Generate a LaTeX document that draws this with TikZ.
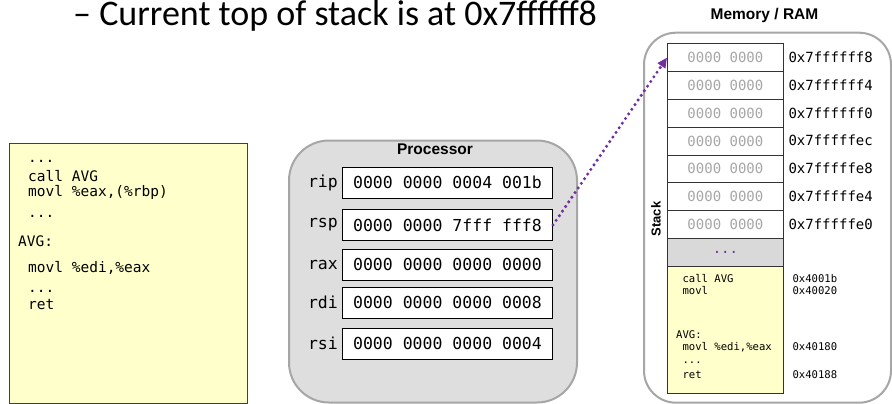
\documentclass[tikz,border=0pt]{standalone}
\usepackage{fontspec}
\setmainfont{Liberation Sans}
\setmonofont{DejaVu Sans Mono}
\newfontfamily\titlefont{Carlito}
\usetikzlibrary{arrows.meta}

\definecolor{codeyellow}{HTML}{FFFFCC}
\definecolor{procgray}{HTML}{DEDEDE}
\definecolor{framegray}{HTML}{A6A6A6}
\definecolor{cellgray}{HTML}{D9D9D9}
\definecolor{zerogray}{HTML}{A6A6A6}
\definecolor{ptrpurple}{HTML}{7030A0}

\tikzset{
  codeline/.style={anchor=base west, inner sep=0pt, font=\ttfamily\fontsize{14.5}{16}\selectfont},
  smallcode/.style={anchor=base west, inner sep=0pt, font=\ttfamily\fontsize{10.6}{12}\selectfont},
  regbox/.style={draw=black, line width=1pt, fill=white, minimum width=210pt, minimum height=31pt,
                 inner sep=0pt, font=\ttfamily\fontsize{16.5}{18}\selectfont},
  reglabel/.style={anchor=east, inner sep=0pt, font=\ttfamily\fontsize{16.5}{18}\selectfont},
  memcell/.style={draw=black!80, line width=0.8pt, fill=white, minimum width=116pt, minimum height=27.8pt,
                  inner sep=0pt, anchor=north west, text=zerogray, font=\ttfamily\fontsize{14}{16}\selectfont},
  addr/.style={anchor=west, inner sep=0pt, font=\ttfamily\fontsize{14}{16}\selectfont},
  heading/.style={inner sep=0pt, font=\bfseries\fontsize{15.5}{17}\selectfont},
  roundframe/.style={draw=framegray, line width=2pt, inner sep=0pt, anchor=north west},
}

\begin{document}
\begin{tikzpicture}[x=1pt, y=-1pt]
\useasboundingbox (0,0) rectangle (892,404);

% slide bullet
\node[anchor=base west, inner sep=0pt, font=\titlefont\fontsize{36}{40}\selectfont]
  (title) at (73,26) {– Current top of stack is at 0x7ffffff8};

% program listing
\node[draw=black!75, line width=1pt, fill=codeyellow, anchor=north west,
      minimum width=238pt, minimum height=260pt, inner sep=0pt] (code) at (9,143) {};
\node[codeline] (c1) at (28,162.7) {...};
\node[codeline] (c2) at (28,181.7) {call AVG};
\node[codeline] (c3) at (28,196.7) {movl \%eax,(\%rbp)};
\node[codeline] (c4) at (28,217.7) {...};
\node[codeline] (c5) at (18,246) {AVG:};
\node[codeline] (c6) at (28,272.7) {movl \%edi,\%eax};
\node[codeline] (c7) at (28,292.7) {...};
\node[codeline] (c8) at (28,309.3) {ret};

% processor with its registers
\node[roundframe, fill=procgray, rounded corners=40pt,
      minimum width=288pt, minimum height=262pt] (proc) at (288,139.5) {};
\node[heading] (proclbl) at (435,149) {Processor};

\node[regbox] (rip) at (447.5,182.5) {0000 0000 0004 001b};
\node[regbox] (rsp) at (447.5,225)   {0000 0000 7fff fff8};
\node[regbox] (rax) at (447.5,264.7) {0000 0000 0000 0000};
\node[regbox] (rdi) at (447.5,302.5) {0000 0000 0000 0008};
\node[regbox] (rsi) at (447.5,343.8) {0000 0000 0000 0004};
\foreach \r in {rip,rsp,rax,rdi,rsi}
  \node[reglabel] (\r-lbl) at ([xshift=-4pt]\r.west) {\r};

% memory
\node[heading] (memlbl) at (764.5,15) {Memory / RAM};
\node[roundframe, fill=white, rounded corners=32pt,
      minimum width=247pt, minimum height=370pt] (mem) at (643,31.7) {};

\node[memcell] (m1) at (667,43.3)  {0000 0000};
\node[memcell] (m2) at (667,71.1)  {0000 0000};
\node[memcell] (m3) at (667,98.9)  {0000 0000};
\node[memcell] (m4) at (667,126.7) {0000 0000};
\node[memcell] (m5) at (667,154.5) {0000 0000};
\node[memcell] (m6) at (667,182.3) {0000 0000};
\node[memcell] (m7) at (667,210.1) {0000 0000};
\node[memcell, fill=cellgray, text=ptrpurple] (gap) at (667,237.9) {\raisebox{-2pt}{...}};
\node[memcell, fill=codeyellow, minimum height=127.6pt] (text) at (667,265.7) {};

\node[addr] (a1) at (788.3,57.2)  {0x7ffffff8};
\node[addr] (a2) at (788.3,85)    {0x7ffffff4};
\node[addr] (a3) at (788.3,112.8) {0x7ffffff0};
\node[addr] (a4) at (788.3,140.6) {0x7fffffec};
\node[addr] (a5) at (788.3,168.4) {0x7fffffe8};
\node[addr] (a6) at (788.3,196.2) {0x7fffffe4};
\node[addr] (a7) at (788.3,224)   {0x7fffffe0};

\node[inner sep=0pt, font=\bfseries\fontsize{13}{15}\selectfont, rotate=90] (stacklbl) at (656,219) {Stack};

% code segment in memory
\node[smallcode] (t1) at (682.3,282)   {call AVG};
\node[smallcode] (t2) at (682.3,294.5) {movl};
\node[smallcode] (t3) at (676,338)     {AVG:};
\node[smallcode] (t4) at (682.3,350.5) {movl \%edi,\%eax};
\node[smallcode] (t5) at (682.3,363)   {...};
\node[smallcode] (t6) at (682.3,378.5) {ret};
\node[smallcode] (ta1) at (792.3,282)   {0x4001b};
\node[smallcode] (ta2) at (792.3,294.5) {0x40020};
\node[smallcode] (ta3) at (792.3,350.5) {0x40180};
\node[smallcode] (ta4) at (792.3,378.5) {0x40188};

% stack pointer
\draw[ptrpurple, line width=3.4pt, line cap=round, dash pattern=on 0pt off 5.6pt,
      -{Triangle[length=10pt, width=9pt]}]
  (rsp.east) -- (m1.west);
\end{tikzpicture}
\end{document}
